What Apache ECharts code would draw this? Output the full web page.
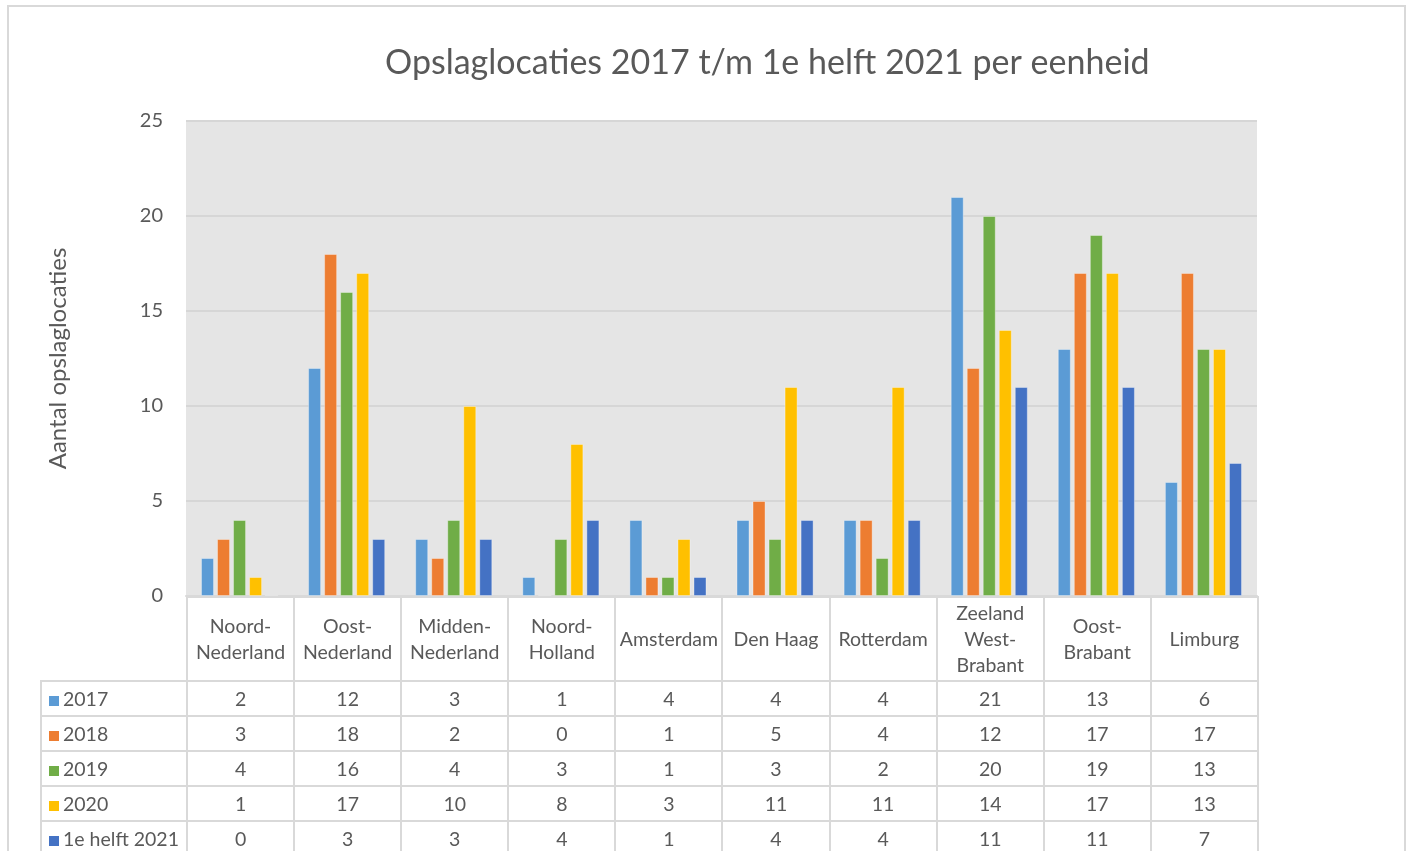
<!DOCTYPE html>
<html>
<head>
<meta charset="utf-8">
<script src="https://cdn.jsdelivr.net/npm/echarts@6/dist/echarts.min.js"></script>
<style>
    html, body { margin: 0; padding: 0; background: #fff; }
    body { width: 1408px; height: 851px; position: relative; overflow: hidden; font-family: Lato, "Noto Sans", sans-serif; }
    #frame { position: absolute; left: 7px; top: 5px; width: 1395px; height: 860px; border: 2px solid #d9d9d9; }
    #chart { position: absolute; left: 0; top: 0; width: 1408px; height: 851px; }
    #dataTable { position: absolute; left: 40px; top: 596px; border-collapse: collapse; table-layout: fixed; color: #595959; font-size: 19.5px; }
    #dataTable td { border: 2px solid #d9d9d9; text-align: center; padding: 0; height: 33px; }
    #dataTable tr.head td { height: 82px; line-height: 26px; }
    #dataTable td.corner { border-top: none; border-left: none; }
    #dataTable td.name { text-align: left; padding-left: 7px; white-space: nowrap; }
    .key { display: inline-block; width: 10px; height: 10px; margin-right: 4px; }
</style>
</head>
<body>
<div id="frame"></div>
<div id="chart"></div>
<table id="dataTable"></table>
<script>
// categories (regional units) and values per series
const categories = ['Noord-\nNederland', 'Oost-\nNederland', 'Midden-\nNederland', 'Noord-\nHolland', 'Amsterdam', 'Den Haag', 'Rotterdam', 'Zeeland\nWest-\nBrabant', 'Oost-\nBrabant', 'Limburg'];
const seriesNames = ['2017', '2018', '2019', '2020', '1e helft 2021'];
const values2017 = [2, 12, 3, 1, 4, 4, 4, 21, 13, 6];
const values2018 = [3, 18, 2, 0, 1, 5, 4, 12, 17, 17];
const values2019 = [4, 16, 4, 3, 1, 3, 2, 20, 19, 13];
const values2020 = [1, 17, 10, 8, 3, 11, 11, 14, 17, 13];
const values2021 = [0, 3, 3, 4, 1, 4, 4, 11, 11, 7];
const yTicks = { min: 0, max: 25, interval: 5 };

const colorList = ['#5b9bd5', '#ed7d31', '#70ad47', '#ffc000', '#4472c4'];
const allValues = [values2017, values2018, values2019, values2020, values2021];

const gridLeft = 186, gridWidth = 1071;

let myChart = echarts.init(document.getElementById('chart'));
let option = {
    animation: false,
    title: {
        text: 'Opslaglocaties 2017 t/m 1e helft 2021 per eenheid',
        left: 380,
        top: 41,
        textStyle: {
            fontSize: 34,
            fontFamily: 'Lato',
            fontWeight: 'normal',
            color: '#595959'
        }
    },
    grid: {
        left: gridLeft,
        top: 121,
        width: gridWidth,
        height: 475,
        show: true,
        backgroundColor: '#e5e5e5',
        borderWidth: 0
    },
    xAxis: {
        type: 'category',
        data: categories,
        axisLabel: { show: false },
        axisTick: { show: false },
        axisLine: { show: true, lineStyle: { color: '#d9d9d9', width: 2 } }
    },
    yAxis: {
        type: 'value',
        min: yTicks.min,
        max: yTicks.max,
        interval: yTicks.interval,
        name: 'Aantal opslaglocaties',
        nameLocation: 'middle',
        nameGap: 116,
        nameTextStyle: { fontSize: 24, fontFamily: 'Lato', color: '#595959' },
        axisLabel: { fontSize: 20, fontFamily: 'Lato', color: '#595959', margin: 23 },
        axisLine: { show: false },
        axisTick: { show: false },
        splitLine: { lineStyle: { color: '#d6d6d6', width: 2 } }
    },
    series: seriesNames.map((name, index) => ({
        name: name,
        type: 'bar',
        data: allValues[index],
        barGap: '23%',
        barCategoryGap: '28%',
        itemStyle: {
            color: colorList[index],
            borderColor: 'rgba(255,255,255,0.35)',
            borderWidth: 1
        }
    }))
};
myChart.setOption(option);

// data table under the chart
const table = document.getElementById('dataTable');
const colWidth = gridWidth / categories.length;
let html = '<colgroup><col style="width:146px">';
categories.forEach(() => { html += '<col style="width:' + colWidth + 'px">'; });
html += '</colgroup><tr class="head"><td class="corner"></td>';
categories.forEach(c => { html += '<td>' + c.replace(/\n/g, '<br>') + '</td>'; });
html += '</tr>';
seriesNames.forEach((name, index) => {
    html += '<tr><td class="name"><span class="key" style="background:' + colorList[index] + '"></span>' + name + '</td>';
    allValues[index].forEach(v => { html += '<td>' + v + '</td>'; });
    html += '</tr>';
});
table.innerHTML = html;
table.style.width = (146 + gridWidth) + 'px';
</script>
</body>
</html>
